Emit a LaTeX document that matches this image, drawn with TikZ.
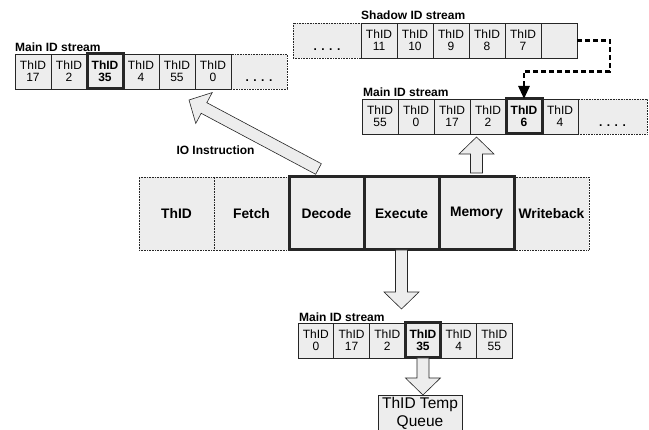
\documentclass[tikz,border=0pt]{standalone}
\usepackage{fontspec}
\setmainfont{Liberation Sans}
\usetikzlibrary{calc,arrows.meta}
\tikzset{
 cell/.style={draw=black!85, line width=0.6pt, fill=black!7, minimum width=36pt, minimum height=35pt,
   inner sep=0pt, outer sep=0pt, anchor=north west, align=center, font=\fontsize{12}{12}\selectfont},
 hot/.style={cell, line width=3pt, font=\fontsize{12}{12}\selectfont\bfseries},
 dotbox/.style={cell, densely dotted, font=\fontsize{12}{12}\selectfont\bfseries},
 stage/.style={draw=black!85, densely dotted, line width=0.6pt, fill=black!7, minimum width=75pt,
   minimum height=73pt, inner sep=0pt, outer sep=0pt, anchor=north west, font=\fontsize{13.8}{14}\selectfont\bfseries},
 hotstage/.style={stage, solid, line width=3pt},
 lab/.style={anchor=base west, inner sep=0pt, font=\fontsize{12}{12}\selectfont\bfseries},
 barrow/.style={draw=black!85, line width=0.6pt, fill=black!7, line join=miter},
 link/.style={line width=2.8pt, dash pattern=on 5pt off 3pt, -{Triangle[length=13pt,width=11pt]}}
}
\newcommand\blockarrow[3]{%
 \coordinate (#1h) at ($(#3)!17pt!(#2)$);
 \draw[barrow] ($(#2)!6pt!90:(#3)$) -- ($(#1h)!6pt!-90:(#2)$) -- ($(#1h)!17.5pt!-90:(#2)$) -- (#3)
   -- ($(#1h)!17.5pt!90:(#2)$) -- ($(#1h)!6pt!90:(#2)$) -- ($(#2)!6pt!-90:(#3)$) -- cycle;
}
\begin{document}
\begin{tikzpicture}[x=1pt,y=-1pt]
\useasboundingbox (0,0) rectangle (649,430);

% ---- top-left main ID stream
\node[dotbox, minimum width=56pt] (mldots) at (231,54) {\vphantom{ThID}\\. . . .};
\node[cell] (ml1) at (15,54) {ThID\\17};
\node[cell] (ml2) at (51,54) {ThID\\2};
\node[cell] (ml4) at (123,54) {ThID\\4};
\node[cell] (ml5) at (159,54) {ThID\\55};
\node[cell] (ml6) at (195,54) {ThID\\0};
\node[hot]  (ml3) at (87,54) {ThID\\35};
\node[lab] (mllab) at ($(ml1.north west)+(0,-2)$) {Main ID stream};

% ---- shadow ID stream
\node[dotbox, minimum width=68pt] (shdots) at (293,23) {\vphantom{ThID}\\. . . .};
\node[cell] (sh1) at (361,23) {ThID\\11};
\node[cell] (sh2) at (397,23) {ThID\\10};
\node[cell] (sh3) at (433,23) {ThID\\9};
\node[cell] (sh4) at (469,23) {ThID\\8};
\node[cell] (sh5) at (505,23) {ThID\\7};
\node[cell] (sh6) at (541,23) {};
\node[lab] (shlab) at ($(sh1.north west)+(0,-3)$) {Shadow ID stream};

% ---- right main ID stream
\node[dotbox, minimum width=69pt] (rmdots) at (578,99) {\vphantom{ThID}\\. . . .};
\node[cell] (rm1) at (362,99) {ThID\\55};
\node[cell] (rm2) at (398,99) {ThID\\0};
\node[cell] (rm3) at (434,99) {ThID\\17};
\node[cell] (rm4) at (470,99) {ThID\\2};
\node[cell] (rm6) at (542,99) {ThID\\4};
\node[hot]  (rm5) at (506,99) {ThID\\6};
\node[lab] (rmlab) at ($(rm1.north west)+(1,-2)$) {Main ID stream};

% ---- pipeline
\node[stage] (pth) at (139,177) {ThID};
\node[stage] (pfe) at (214,177) {Fetch};
\node[stage] (pwb) at (514,177) {Writeback};
\node[hotstage] (dec) at (289,177) {Decode};
\node[hotstage] (exe) at (364,177) {Execute};
\node[hotstage] (mem) at (439,177) {Memory};

% ---- bottom main ID stream
\node[cell, minimum width=35.7pt] (bs1) at (298,323) {ThID\\0};
\node[cell, minimum width=35.7pt] (bs2) at (333.7,323) {ThID\\17};
\node[cell, minimum width=35.7pt] (bs3) at (369.4,323) {ThID\\2};
\node[cell, minimum width=35.7pt] (bs5) at (440.8,323) {ThID\\4};
\node[cell, minimum width=35.7pt] (bs6) at (476.5,323) {ThID\\55};
\node[hot, minimum width=35.7pt]  (bs4) at (405.1,323) {ThID\\35};
\node[lab] (bslab) at ($(bs1.north west)+(1,-1)$) {Main ID stream};

% ---- temp queue
\node[cell, minimum width=84pt, minimum height=37pt, font=\fontsize{15.5}{18}\selectfont] (q) at (378,395) {ThID Temp\\Queue};

% ---- block arrows
\coordinate (uaA) at ($(mem.north)+(0,-4)$);
\coordinate (uaB) at ($(mem.north |- rm3.south)+(0,3)$);
\blockarrow{ua}{uaA}{uaB}
\coordinate (ioA) at ($(dec.north)+(-8,-8)$);
\coordinate (ioB) at ($(ml5.south)+(12,11)$);
\blockarrow{io}{ioA}{ioB}
\coordinate (dxB) at ($(exe.south |- bs1.north)+(0,-14)$);
\blockarrow{dx}{exe.south}{dxB}
\coordinate (dqB) at (bs4.south |- q.north);
\blockarrow{dq}{bs4.south}{dqB}

\node[font=\fontsize{12}{12}\selectfont\bfseries, inner sep=0pt] (io) at (215.5,150.5) {IO Instruction};

% ---- dashed link from shadow to main stream
\coordinate (c1) at ($(sh6.east)+(33,31)$);
\draw[link] (sh6.east) -| (c1) -| (rm5.north);
\end{tikzpicture}
\end{document}
